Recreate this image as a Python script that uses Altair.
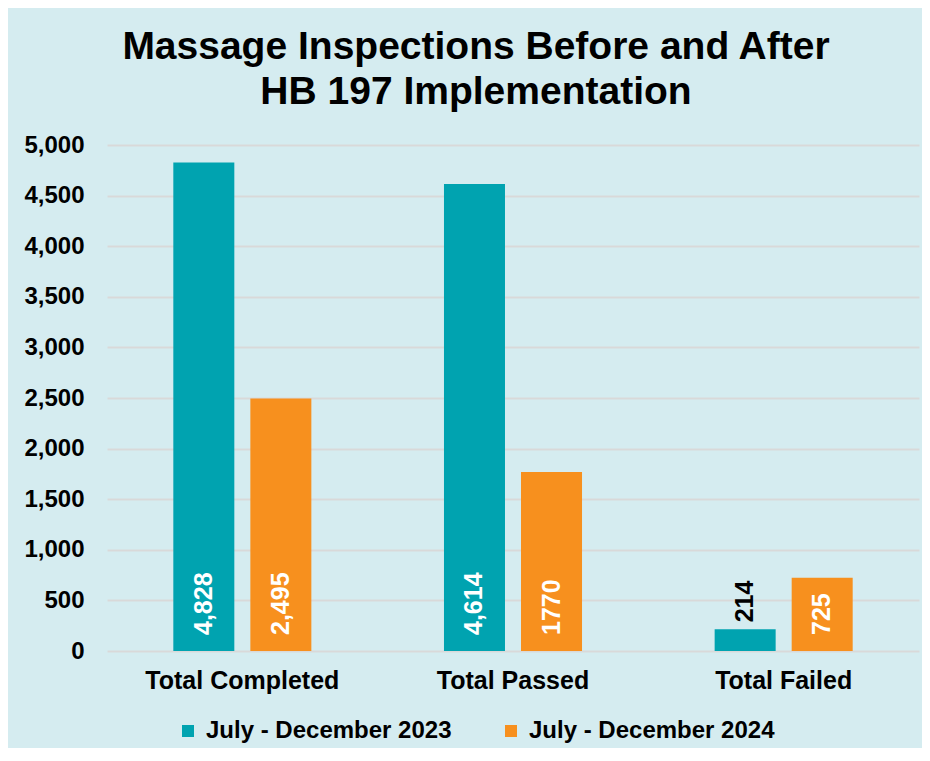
import altair as alt
import pandas as pd

categories = ["Total Completed", "Total Passed", "Total Failed"]
series = ["July - December 2023", "July - December 2024"]
values_2023 = [4828, 4614, 214]
values_2024 = [2495, 1770, 725]
labels_2023 = ["4,828", "4,614", "214"]
labels_2024 = ["2,495", "1770", "725"]
y_ticks = [0, 500, 1000, 1500, 2000, 2500, 3000, 3500, 4000, 4500, 5000]
colors = ["#00A3B0", "#F7901E"]
title_lines = ["Massage Inspections Before and After", "HB 197 Implementation"]

rows = []
for s, vals, labs in [(series[0], values_2023, labels_2023), (series[1], values_2024, labels_2024)]:
    for c, v, l in zip(categories, vals, labs):
        rows.append({"category": c, "series": s, "value": v, "label": l})
df = pd.DataFrame(rows)

FONT = "Liberation Sans"

x = alt.X(
    "category:N",
    sort=categories,
    scale=alt.Scale(paddingInner=0.49, paddingOuter=0.245),
    axis=alt.Axis(
        title=None, labelAngle=0, domain=False, ticks=False, tickSize=0,
        labelFontSize=25, labelFontWeight="bold", labelFont=FONT,
        labelColor="#000000", labelPadding=17, labelLimit=0,
    ),
)
xo = alt.XOffset("series:N", sort=series, scale=alt.Scale(paddingInner=0.208, paddingOuter=0))
y = alt.Y(
    "value:Q",
    scale=alt.Scale(domain=[0, 5000], nice=False),
    axis=alt.Axis(
        values=y_ticks, format=",.0f", title=None, grid=True, gridColor="#D9D9D9",
        gridWidth=2, domain=False, ticks=False, tickSize=0,
        labelFontSize=24, labelFontWeight="bold", labelFont=FONT,
        labelColor="#000000", labelPadding=23, labelLimit=0,
    ),
)

bars = alt.Chart(df).mark_bar().encode(
    x=x,
    xOffset=xo,
    y=y,
    color=alt.Color(
        "series:N",
        sort=series,
        scale=alt.Scale(domain=series, range=colors),
        legend=alt.Legend(
            title=None, orient="none", direction="horizontal",
            legendX=69, legendY=574, symbolType="square", symbolSize=144,
            symbolStrokeWidth=0, labelFontSize=24, labelFontWeight="bold",
            labelFont=FONT, labelColor="#000000", labelOffset=6,
            columnPadding=47, labelLimit=0,
        ),
    ),
)

inside = alt.Chart(df).transform_filter("datum.value >= 500").mark_text(
    angle=270, align="left", baseline="middle", dx=16, color="white",
    fontSize=25, fontWeight="bold", font=FONT,
).encode(x=x, xOffset=xo, y=alt.datum(0), text="label:N")

outside = alt.Chart(df).transform_filter("datum.value < 500").mark_text(
    angle=270, align="left", baseline="middle", dx=7, color="black",
    fontSize=25, fontWeight="bold", font=FONT,
).encode(x=x, xOffset=xo, y=y, text="label:N")

chart = (bars + inside + outside).properties(
    width=812,
    height=506,
    autosize=alt.AutoSizeParams(type="none"),
    padding={"left": 99, "top": 137, "right": 3, "bottom": 97},
    background="#D5ECF0",
    title=alt.TitleParams(
        text=title_lines, fontSize=39, font=FONT, fontWeight="bold",
        color="#000000", lineHeight=45, anchor="middle", dx=-37, offset=21,
    ),
).configure_view(stroke=None)

chart.save("out.html", embed_options={"renderer": "svg", "actions": False})
